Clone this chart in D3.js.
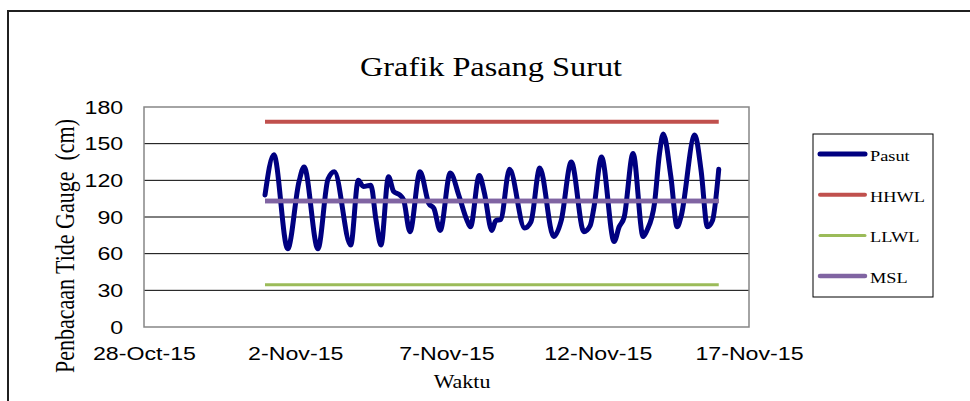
<!DOCTYPE html>
<html>
<head>
<meta charset="utf-8">
<script src="https://cdnjs.cloudflare.com/ajax/libs/d3/7.8.5/d3.min.js"></script>
<style>
  body { margin: 0; background: #fff; }
  .serif { font-family: 'Liberation Serif', 'Times New Roman', serif; }
</style>
</head>
<body>
<script>
// data
var tickLabels = ["28-Oct-15", "2-Nov-15", "7-Nov-15", "12-Nov-15", "17-Nov-15"];
var yTicks = [0, 30, 60, 90, 120, 150, 180];
var seriesStart = "1-Nov-15";
var seriesEnd = "16-Nov-15";

// hours after 1-Nov-15 00:00 and gauge reading (cm)
var pasutHours = [0, 7, 18, 27, 31, 42, 50, 55, 68, 74, 78, 84, 88, 92, 98, 102, 107, 110, 115, 123,
  130, 134, 139, 147, 154, 160, 163, 170, 174, 180, 183, 187, 194, 206, 211, 218, 229, 235, 243,
  253, 258, 261, 267, 277, 281, 285, 292, 300, 303, 309, 313, 316, 322, 327, 330, 341, 346, 351, 355, 360];
var pasutCm = [108, 141, 64, 119, 131, 64, 121, 127, 67, 120, 115, 116, 88, 67, 123, 111, 108, 104, 78, 127,
  101, 97, 79, 126, 107, 88, 82, 124, 110, 79, 87, 88, 129, 81, 86, 130, 74, 87, 135,
  78, 83, 98, 139, 70, 82, 90, 142, 74, 79, 101, 142, 158, 123, 82, 90, 157, 128, 82, 87, 129];

var levelNames = ["HHWL", "LLWL", "MSL"];
var levelCm = [168, 34.5, 103];

var legendNames = ["Pasut", "HHWL", "LLWL", "MSL"];
var legendColors = ["#000080", "#C0504D", "#9BBB59", "#8064A2"];
var legendWidths = [5, 4, 3, 4.5];

// the picture is stretched sideways, so text gets the same stretch
var sx = 1.22;

var width = 970, height = 401;
var plot = {left: 144, right: 749, top: 107, bottom: 327};

var parseDay = d3.timeParse("%d-%b-%y");

var svg = d3.select("body")
  .append("svg")
    .attr("width", width)
    .attr("height", height);

// outer chart frame (runs off the page on the right and bottom)
svg.append("rect")
  .attr("x", 8)
  .attr("y", 11)
  .attr("width", 1000)
  .attr("height", 500)
  .attr("fill", "none")
  .attr("stroke", "#202020")
  .attr("stroke-width", 2);

var x = d3.scaleTime()
  .domain([parseDay(tickLabels[0]), parseDay(tickLabels[tickLabels.length - 1])])
  .range([plot.left, plot.right]);

var y = d3.scaleLinear()
  .domain([0, 180])
  .range([plot.bottom, plot.top]);

// gridlines
svg.append("g")
  .selectAll("line")
  .data(yTicks.filter(function(d) { return d > 0 && d < 180; }))
  .enter()
  .append("line")
    .attr("x1", plot.left)
    .attr("x2", plot.right)
    .attr("y1", function(d) { return y(d); })
    .attr("y2", function(d) { return y(d); })
    .attr("stroke", "#000")
    .attr("stroke-width", 1);

// plot area border
svg.append("rect")
  .attr("x", plot.left)
  .attr("y", plot.top)
  .attr("width", plot.right - plot.left)
  .attr("height", plot.bottom - plot.top)
  .attr("fill", "none")
  .attr("stroke", "#868686")
  .attr("stroke-width", 1.5);

// y axis
var yAxis = svg.append("g")
  .attr("transform", "translate(" + plot.left + ",0)")
  .call(d3.axisLeft(y).tickValues(yTicks).tickSize(0).tickPadding(17).tickFormat(d3.format("d")));
yAxis.select(".domain").remove();
yAxis.selectAll("text")
  .attr("transform", "scale(" + sx + ",1)")
  .style("font-family", "'Liberation Sans', Arial, sans-serif")
  .style("font-size", "19px")
  .attr("fill", "#000");

// x axis
var xAxis = svg.append("g")
  .attr("transform", "translate(0," + plot.bottom + ")")
  .call(d3.axisBottom(x)
    .tickValues(tickLabels.map(parseDay))
    .tickSize(0)
    .tickPadding(20)
    .tickFormat(function(d, i) { return tickLabels[i]; }));
xAxis.select(".domain").remove();
xAxis.selectAll("text")
  .attr("transform", "scale(" + sx + ",1)")
  .style("font-family", "'Liberation Sans', Arial, sans-serif")
  .style("font-size", "19px")
  .attr("fill", "#000");

// constant levels
var t0 = parseDay(seriesStart), t1 = parseDay(seriesEnd);
var flatLine = d3.line()
  .x(function(d) { return x(d[0]); })
  .y(function(d) { return y(d[1]); });

levelNames.forEach(function(name, i) {
  var k = legendNames.indexOf(name);
  svg.append("path")
    .datum([[t0, levelCm[i]], [t1, levelCm[i]]])
    .attr("d", flatLine)
    .attr("fill", "none")
    .attr("stroke", legendColors[k])
    .attr("stroke-width", legendWidths[k]);
});

// tide gauge series
var pasut = pasutHours.map(function(h, i) { return [d3.timeHour.offset(t0, h), pasutCm[i]]; });

svg.append("path")
  .datum(pasut)
  .attr("d", d3.line()
    .x(function(d) { return x(d[0]); })
    .y(function(d) { return y(d[1]); })
    .curve(d3.curveMonotoneX))
  .attr("fill", "none")
  .attr("stroke", legendColors[0])
  .attr("stroke-width", legendWidths[0])
  .attr("stroke-linejoin", "round")
  .attr("stroke-linecap", "round");

// MSL sits on top of the tide curve in the picture
svg.append("path")
  .datum([[t0, levelCm[2]], [t1, levelCm[2]]])
  .attr("d", flatLine)
  .attr("fill", "none")
  .attr("stroke", legendColors[3])
  .attr("stroke-width", legendWidths[3]);

// title
svg.append("text")
  .attr("class", "serif")
  .attr("transform", "translate(491,76) scale(" + sx + ",1)")
  .attr("text-anchor", "middle")
  .style("font-size", "26.5px")
  .attr("fill", "#000")
  .text("Grafik Pasang Surut");

// axis titles
svg.append("text")
  .attr("class", "serif")
  .attr("transform", "translate(462,388) scale(" + sx + ",1)")
  .attr("text-anchor", "middle")
  .style("font-size", "18px")
  .attr("fill", "#000")
  .text("Waktu");

svg.append("text")
  .attr("class", "serif")
  .attr("transform", "translate(65,246) rotate(-90) scale(1," + sx + ")")
  .attr("text-anchor", "middle")
  .attr("dominant-baseline", "central")
  .style("font-size", "22px")
  .style("white-space", "pre")
  .attr("fill", "#000")
  .text("Penbacaan Tide Gauge  (cm)");

// legend
var legend = svg.append("g");
legend.append("rect")
  .attr("x", 813)
  .attr("y", 134)
  .attr("width", 120)
  .attr("height", 163)
  .attr("fill", "#fff")
  .attr("stroke", "#000")
  .attr("stroke-width", 1);

var rows = legend.selectAll("g.row")
  .data(legendNames)
  .enter()
  .append("g")
    .attr("class", "row")
    .attr("transform", function(d, i) { return "translate(0," + (154 + i * 40.7) + ")"; });

rows.append("line")
  .attr("x1", 820)
  .attr("x2", 865)
  .attr("stroke", function(d, i) { return legendColors[i]; })
  .attr("stroke-width", function(d, i) { return legendWidths[i]; })
  .attr("stroke-linecap", "round");

rows.append("text")
  .attr("class", "serif")
  .attr("transform", "translate(870,7) scale(" + sx + ",1)")
  .style("font-size", "15px")
  .attr("fill", "#000")
  .text(function(d) { return d; });
</script>
</body>
</html>
